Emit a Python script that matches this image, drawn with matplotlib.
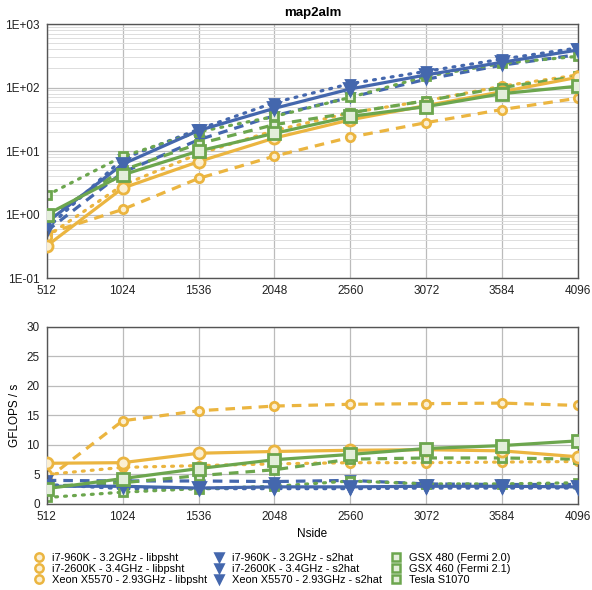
import matplotlib
matplotlib.use("Agg")
import matplotlib.pyplot as plt
from matplotlib.lines import Line2D
from matplotlib.ticker import FixedLocator, FuncFormatter, LogLocator, NullFormatter

plt.rcParams['font.family'] = ['Liberation Sans', 'DejaVu Sans']

nside = [512, 1024, 1536, 2048, 2560, 3072, 3584, 4096]

labels = [
    "i7-960K - 3.2GHz - libpsht",
    "i7-2600K - 3.4GHz - libpsht",
    "Xeon X5570 - 2.93GHz - libpsht",
    "i7-960K - 3.2GHz - s2hat",
    "i7-2600K - 3.4GHz - s2hat",
    "Xeon X5570 - 2.93GHz - s2hat",
    "GSX 480 (Fermi 2.0)",
    "GSX 460 (Fermi 2.1)",
    "Tesla S1070",
]

# top panel: time (s), log scale
time_i7960_libpsht = [0.32, 2.6, 6.8, 16, 31, 52, 86, 145]
time_i72600_libpsht = [0.5, 1.2, 3.7, 8.3, 16.5, 28, 45, 68]
time_xeon_libpsht = [0.45, 2.9, 9.0, 21, 40, 62, 105, 158]
time_i7960_s2hat = [0.75, 6.2, 21, 47, 95, 158, 250, 390]
time_i72600_s2hat = [0.55, 4.6, 15, 36, 70, 135, 225, 330]
time_xeon_s2hat = [0.6, 7.5, 22, 58, 115, 180, 280, 420]
time_gsx480 = [1.0, 4.2, 10, 19, 35, 50, 80, 105]
time_gsx460 = [0.9, 5.0, 13, 26, 40, 62, 100, 150]
time_tesla = [2.0, 8.2, 20, 35, 70, 150, 240, 310]

# bottom panel: GFLOPS / s
gf_i7960_libpsht = [6.9, 7.0, 8.6, 8.9, 9.1, 9.2, 9.0, 8.0]
gf_i72600_libpsht = [4.2, 14.1, 15.8, 16.6, 16.9, 17.0, 17.1, 16.7]
gf_xeon_libpsht = [5.0, 6.2, 6.5, 6.8, 7.0, 7.0, 7.1, 7.2]
gf_i7960_s2hat = [3.0, 3.0, 2.7, 2.9, 2.9, 3.0, 3.0, 2.9]
gf_i72600_s2hat = [4.0, 3.9, 3.9, 3.8, 4.0, 3.4, 3.3, 3.3]
gf_xeon_s2hat = [3.3, 2.6, 2.6, 2.6, 2.6, 2.7, 2.7, 2.7]
gf_gsx480 = [2.6, 4.3, 6.0, 7.5, 8.4, 9.4, 9.9, 10.7]
gf_gsx460 = [3.0, 3.6, 4.8, 5.8, 7.6, 7.8, 7.8, 7.6]
gf_tesla = [1.1, 2.0, 2.6, 3.0, 3.9, 3.4, 3.4, 3.6]

times = [time_i7960_libpsht, time_i72600_libpsht, time_xeon_libpsht,
         time_i7960_s2hat, time_i72600_s2hat, time_xeon_s2hat,
         time_gsx480, time_gsx460, time_tesla]
gflops = [gf_i7960_libpsht, gf_i72600_libpsht, gf_xeon_libpsht,
          gf_i7960_s2hat, gf_i72600_s2hat, gf_xeon_s2hat,
          gf_gsx480, gf_gsx460, gf_tesla]

ORANGE = '#EBB540'
BLUE = '#4467AD'
GREEN = '#6CA64E'
colors = [ORANGE] * 3 + [BLUE] * 3 + [GREEN] * 3
markers = ['o'] * 3 + ['v'] * 3 + ['s'] * 3
styles = ['-', (0, (3, 2.2)), (0, (0.6, 2.2))] * 3
facecols = ['#FBEFD2'] * 3 + [BLUE] * 3 + ['#E3EEDA'] * 3

fig = plt.figure(figsize=(5.92, 5.90), dpi=100)
ax1 = fig.add_axes([0.0789, 0.5288, 0.8975, 0.4305])
ax2 = fig.add_axes([0.0789, 0.1458, 0.8975, 0.3000])

def draw(ax, data):
    for i, ys in enumerate(data):
        solid = (i % 3 == 0)
        ms = 8 if solid else 6
        ax.plot(nside, ys, color=colors[i], linestyle=styles[i], linewidth=2.3,
                dash_capstyle='round' if i % 3 == 2 else 'butt',
                marker=markers[i], markersize=ms, markeredgewidth=2.0,
                markerfacecolor=facecols[i], markeredgecolor=colors[i],
                zorder=3 if solid else 2)

draw(ax1, times)
draw(ax2, gflops)

for ax in (ax1, ax2):
    ax.set_xlim(512, 4096)
    ax.set_xticks(nside)
    ax.set_xticklabels([str(n) for n in nside])
    ax.tick_params(axis='both', length=0, labelsize=8.5, colors='#222222', pad=5)
    ax.grid(True, which='major', color='#BBBBBB', linewidth=0.9)
    for s in ax.spines.values():
        s.set_color('#555555')
        s.set_linewidth(1.0)
    ax.set_axisbelow(True)

ax1.set_yscale('log')
ax1.set_ylim(0.1, 1000)
ax1.yaxis.set_major_locator(FixedLocator([0.1, 1, 10, 100, 1000]))
ax1.yaxis.set_major_formatter(FuncFormatter(lambda v, p: {0.1: '1E-01', 1: '1E+00', 10: '1E+01', 100: '1E+02', 1000: '1E+03'}.get(round(v, 3), '')))
ax1.yaxis.set_minor_locator(LogLocator(base=10, subs=range(2, 10)))
ax1.yaxis.set_minor_formatter(NullFormatter())
ax1.tick_params(axis='y', which='minor', length=0)
ax1.grid(True, which='minor', axis='y', color='#DDDDDD', linewidth=0.7)
ax1.set_title('map2alm', fontsize=9.5, fontweight='bold', pad=6)

ax2.set_ylim(0, 30)
ax2.set_yticks([0, 5, 10, 15, 20, 25, 30])
ax2.set_ylabel('GFLOPS / s', fontsize=8.5, labelpad=4)
ax2.set_xlabel('Nside', fontsize=8.5, labelpad=4)

handles = [Line2D([], [], linestyle='none', marker=markers[i], markersize=6,
                  markeredgewidth=1.8, markerfacecolor=facecols[i],
                  markeredgecolor=colors[i], color=colors[i]) for i in range(9)]
col_x = [34 / 592, 214 / 592, 391 / 592]
for c in range(3):
    fig.legend(handles[3 * c:3 * c + 3], labels[3 * c:3 * c + 3], loc='upper left',
               bbox_to_anchor=(col_x[c], 1 - 553 / 590), frameon=False,
               fontsize=7.9, handlelength=1.0, handletextpad=0.6,
               labelspacing=0.08, borderpad=0.0, borderaxespad=0.0)

fig.savefig('out.png', dpi=100)
